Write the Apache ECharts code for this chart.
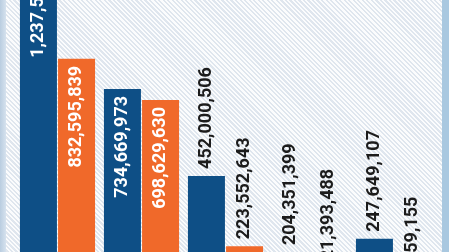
<!DOCTYPE html>
<html>
<head>
<meta charset="utf-8">
<script src="https://cdn.jsdelivr.net/npm/echarts@6/dist/echarts.min.js"></script>
<style>
  html, body { margin: 0; padding: 0; width: 449px; height: 252px; overflow: hidden; }
  #bg {
    position: absolute; left: 0; top: 0; width: 449px; height: 252px;
    background: repeating-linear-gradient(45deg, #fbfcfd 0px, #fbfcfd 1.6px, #dfe6ee 1.6px, #dfe6ee 3.2px);
  }
  #lstrip { position: absolute; left: 0; top: 0; width: 6px; height: 252px;
    background: linear-gradient(90deg, #b9cde0, #d6e2ee); }
  #rstrip { position: absolute; right: 0; top: 0; width: 7px; height: 252px; background: #a9c8e0; }
  #chart { position: absolute; left: 0; top: -85px; width: 449px; height: 400px; }
</style>
</head>
<body>
<div id="bg"></div>
<div id="lstrip"></div>
<div id="rstrip"></div>
<div id="chart"></div>
<script>
const categories = ['Group 1', 'Group 2', 'Group 3', 'Group 4', 'Group 5'];
const blueValues = [1237553192, 734669973, 452000506, 204351399, 247649107];
const orangeValues = [832595839, 698629630, 223552643, 121393488, 64559155];

const BLUE = '#0e4f86';
const ORANGE = '#f0692a';
const INSIDE_THRESHOLD = 600000000;

function fmt(v) { return Number(v).toLocaleString('en-US'); }

function makeData(values) {
  return values.map(function (v) {
    const inside = v >= INSIDE_THRESHOLD;
    return {
      value: v,
      label: inside
        ? { position: 'insideTop', align: 'right', verticalAlign: 'middle', color: '#ffffff', distance: 7 }
        : { position: 'top', align: 'left', verticalAlign: 'middle', color: '#1c1c1c', distance: 7 }
    };
  });
}

const labelBase = {
  show: true,
  rotate: 90,
  fontFamily: 'Roboto',
  fontWeight: 'bold',
  fontSize: 18,
  formatter: function (p) { return fmt(p.value); }
};

const chart = echarts.init(document.getElementById('chart'), null, { renderer: 'canvas' });
chart.setOption({
  backgroundColor: 'transparent',
  animation: false,
  grid: { left: 15.5, right: 13.5, top: 0, bottom: 0 },
  xAxis: { type: 'category', data: categories, show: false },
  yAxis: { type: 'value', min: 0, max: 1300000000, show: false },
  series: [
    {
      type: 'bar', name: 'blue', data: makeData(blueValues),
      barWidth: 37, barGap: '3%',
      itemStyle: { color: BLUE },
      label: labelBase
    },
    {
      type: 'bar', name: 'orange', data: makeData(orangeValues),
      barWidth: 37, barGap: '3%',
      itemStyle: { color: ORANGE },
      label: labelBase
    }
  ]
});
</script>
</body>
</html>
